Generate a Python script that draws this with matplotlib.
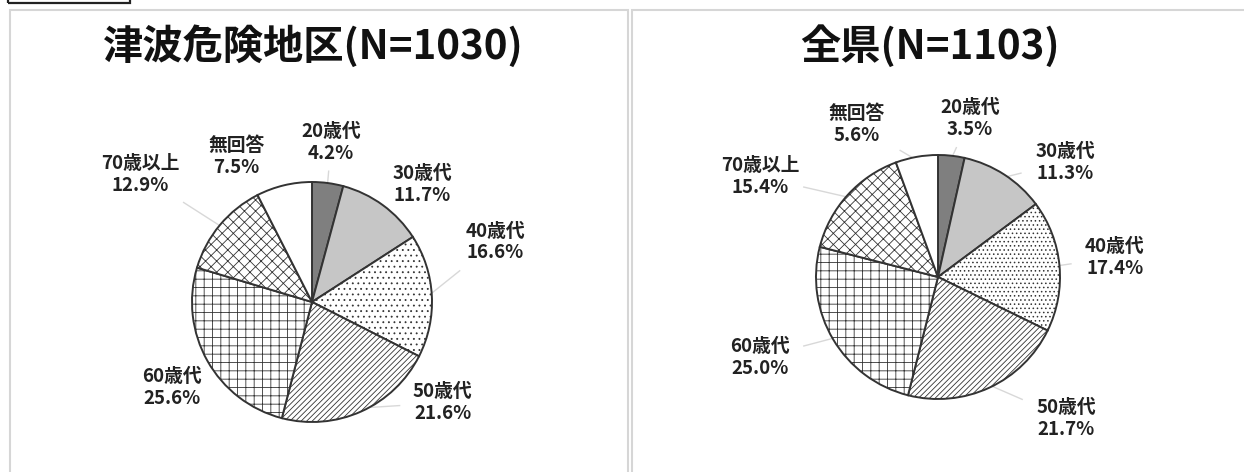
import matplotlib
matplotlib.use('Agg')
import matplotlib.pyplot as plt
from matplotlib.patches import Rectangle
import numpy as np

plt.rcParams['font.family'] = ['Noto Sans CJK JP', 'DejaVu Sans']
plt.rcParams['hatch.linewidth'] = 0.6

# data
labels = ['20歳代', '30歳代', '40歳代', '50歳代', '60歳代', '70歳以上', '無回答']
tsunami_area = [4.2, 11.7, 16.6, 21.6, 25.6, 12.9, 7.5]
whole_pref = [3.5, 11.3, 17.4, 21.7, 25.0, 15.4, 5.6]
titles = ['津波危険地区(N=1030)', '全県(N=1103)']

# styling
fills = ['#7f7f7f', '#c6c6c6', 'white', 'white', 'white', 'white', 'white']
left_hatches = [None, None, '...', '//////', '++', 'xxx', None]
right_hatches = [None, None, '....', '//////', '++', 'xxx', None]

# label positions in pie-radius units (layout only)
left_offs = [(0.16, 1.33), (0.92, 0.98), (1.53, 0.50), (1.09, -0.84),
             (-1.17, -0.71), (-1.43, 1.06), (-0.63, 1.21)]
right_offs = [(0.26, 1.30), (1.04, 0.94), (1.45, 0.16), (1.05, -1.16),
              (-1.46, -0.66), (-1.46, 0.82), (-0.67, 1.25)]

W, H = 1244, 472
fig = plt.figure(figsize=(W / 100, H / 100), dpi=100)
fig.patch.set_facecolor('white')


def fx(x):
    return x / W


def fy(y):
    return 1 - y / H


def draw_pie(cx, cy, r, values, offs, hatches):
    hw, hh = 330, 236
    ax = fig.add_axes([(cx - hw) / W, (H - cy - hh) / H, 2 * hw / W, 2 * hh / H])
    wedges, _ = ax.pie(values, startangle=90, counterclock=False, colors=fills,
                       wedgeprops=dict(edgecolor='#333333', linewidth=1.4))
    for w, h in zip(wedges, hatches):
        if h:
            w.set_hatch(h)
    ax.set_xlim(-hw / r, hw / r)
    ax.set_ylim(-hh / r, hh / r)
    ax.set_aspect('equal')
    ax.axis('off')
    for w, lab, v, (tx, ty) in zip(wedges, labels, values, offs):
        ax.text(tx, ty, f'{lab}\n{v:.1f}%', ha='center', va='center',
                fontsize=13.5, color='#222222', linespacing=1.2, weight='bold')
        a = np.deg2rad((w.theta1 + w.theta2) / 2)
        px, py = 0.97 * np.cos(a), 0.97 * np.sin(a)
        dx, dy = px - tx, py - ty
        bw, bh = 0.36, 0.24
        t = min(bw / max(abs(dx), 1e-6), bh / max(abs(dy), 1e-6))
        if t < 0.85:
            ex, ey = tx + t * dx, ty + t * dy
            ax.plot([ex, px], [ey, py], color='#d8d8d8', lw=1.0, zorder=0)
    return ax


# panels
fig.patches.append(Rectangle((fx(10), fy(480)), fx(628) - fx(10), fy(10) - fy(480),
                             transform=fig.transFigure, fill=False,
                             edgecolor='#d6d6d6', lw=1.5))
fig.patches.append(Rectangle((fx(632), fy(480)), fx(1252) - fx(632), fy(10) - fy(480),
                             transform=fig.transFigure, fill=False,
                             edgecolor='#d6d6d6', lw=1.5))
fig.patches.append(Rectangle((fx(8), fy(3)), fx(130) - fx(8), fy(-20) - fy(3),
                             transform=fig.transFigure, fill=False,
                             edgecolor='#222222', lw=1.6))

draw_pie(312, 302, 120, tsunami_area, left_offs, left_hatches)
draw_pie(938, 277, 122, whole_pref, right_offs, right_hatches)

fig.text(fx(313), fy(47), titles[0], ha='center', va='center', fontsize=29,
         color='#111111', weight='bold')
fig.text(fx(930), fy(47), titles[1], ha='center', va='center', fontsize=29,
         color='#111111', weight='bold')

fig.savefig('out.png', dpi=100, facecolor='white')
